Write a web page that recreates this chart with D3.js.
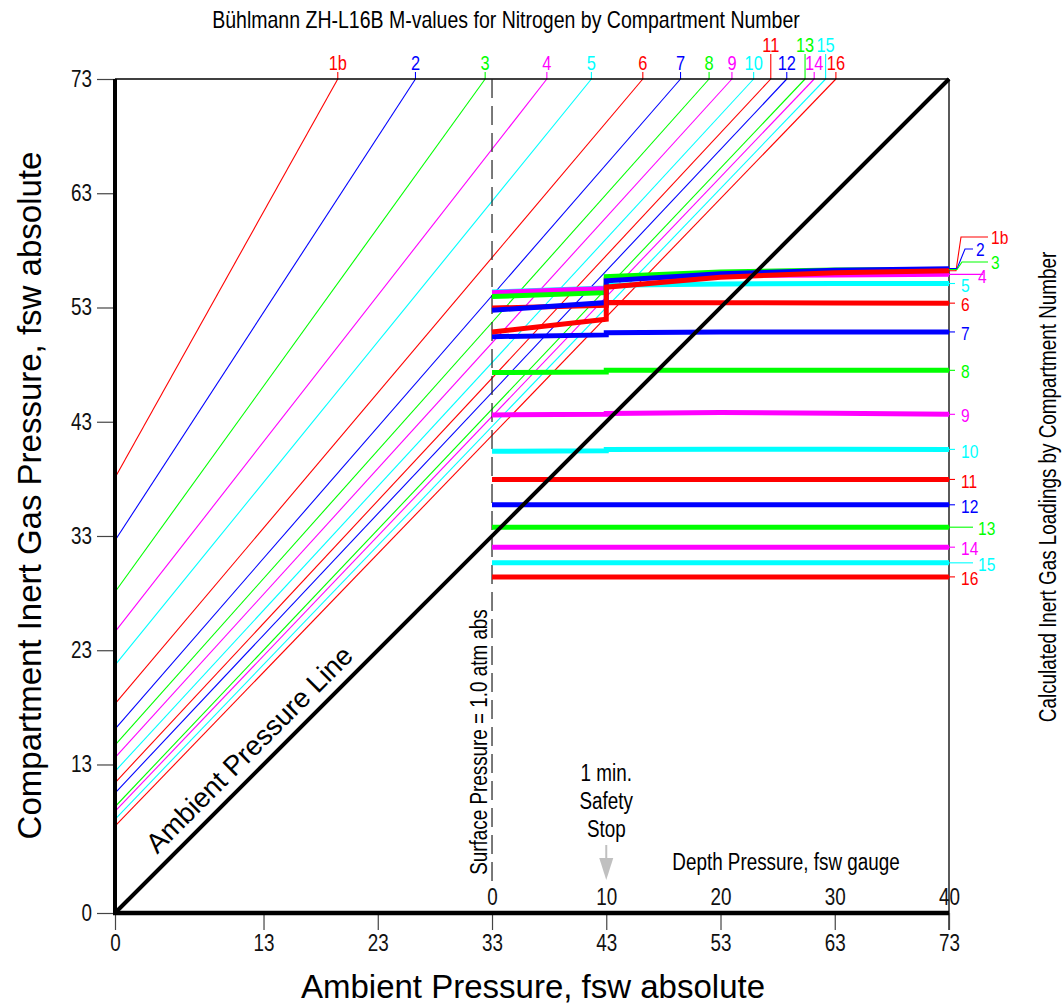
<!DOCTYPE html>
<html><head><meta charset="utf-8">
<script src="https://cdn.jsdelivr.net/npm/d3@7"></script>
<style>body{margin:0;background:#fff}svg{display:block}</style>
</head><body>
<svg id="c" width="1062" height="1005"></svg>
<script>
// ---------- data ----------
const compartments = ["1b","2","3","4","5","6","7","8","9","10","11","12","13","14","15","16"];
const seriesColors = ["#ff0000","#0000ff","#00ff00","#ff00ff","#00ffff","#ff0000","#0000ff","#00ff00","#ff00ff","#00ffff","#ff0000","#0000ff","#00ff00","#ff00ff","#00ffff","#ff0000"];
// M-value line: value at ambient 0 fsw, and ambient pressure where it reaches 73 fsw
const mvalueAtZero = [38.1, 32.6, 28.1, 24.6, 21.7, 18.3, 16.1, 14.7, 13.6, 12.4, 11.4, 10.5, 9.3, 8.9, 8.2, 7.6];
const mvalueTopAmbient = [19.5, 26.3, 32.4, 37.8, 41.7, 46.2, 49.5, 52.0, 54.0, 55.9, 57.4, 58.8, 60.4, 61.2, 62.2, 63.1];
// calculated inert gas loadings vs ambient pressure
const loadingAmbient = [33, 43, 43, 53, 63, 73];
const loadings = [
  [50.86, 51.97, 54.78, 55.65, 56.05, 56.22],
  [52.76, 53.43, 55.33, 55.95, 56.25, 56.40],
  [53.96, 54.30, 55.70, 56.10, 56.28, 56.33],
  [54.30, 54.66, 55.45, 55.80, 55.85, 55.90],
  [54.35, 54.70, 54.95, 55.05, 55.10, 55.10],
  [52.95, 53.20, 53.43, 53.42, 53.40, 53.38],
  [50.45, 50.60, 50.80, 50.85, 50.86, 50.86],
  [47.30, 47.35, 47.50, 47.50, 47.50, 47.50],
  [43.60, 43.65, 43.72, 43.80, 43.75, 43.65],
  [40.42, 40.45, 40.58, 40.60, 40.60, 40.58],
  [37.95, 37.95, 37.95, 37.95, 37.95, 37.95],
  [35.73, 35.73, 35.73, 35.73, 35.73, 35.73],
  [33.77, 33.77, 33.77, 33.77, 33.77, 33.77],
  [32.02, 32.02, 32.02, 32.02, 32.02, 32.02],
  [30.65, 30.65, 30.65, 30.65, 30.65, 30.65],
  [29.42, 29.42, 29.42, 29.42, 29.42, 29.42]
];
const axisTicks = [0, 13, 23, 33, 43, 53, 63, 73];
const depthTicks = [0, 10, 20, 30, 40];
const titleText = "Bühlmann ZH-L16B M-values for Nitrogen by Compartment Number";
const yTitle = "Compartment Inert Gas Pressure, fsw absolute";
const xTitle = "Ambient Pressure, fsw absolute";
const rightTitle = "Calculated Inert Gas Loadings by Compartment Number";
const depthTitle = "Depth Pressure, fsw gauge";
const surfaceText = "Surface Pressure = 1.0 atm abs";
const ambientText = "Ambient Pressure Line";
const stopText = ["1 min.", "Safety", "Stop"];

// ---------- layout ----------
const FONT = "'Liberation Sans', Arial, Helvetica, sans-serif";
const K = 0.82; // condensed text
const svg = d3.select("#c");
const x = d3.scaleLinear().domain([0, 73]).range([115, 949]);
const y = d3.scaleLinear().domain([0, 73]).range([913, 79]);
const xd = d3.scaleLinear().domain([0, 40]).range([x(33), x(73)]);

function ntext(g, tx, ty, rot, str, size, color, anchor) {
  return g.append("text")
    .attr("transform", `translate(${tx},${ty}) rotate(${rot}) scale(${K},1)`)
    .attr("font-family", FONT).attr("font-size", size)
    .attr("fill", color || "#000").attr("text-anchor", anchor || "middle")
    .text(str);
}

// title
ntext(svg, 506, 28, 0, titleText, 23.8, "#000");

// M-value lines
const gM = svg.append("g");
compartments.forEach((c, i) => {
  gM.append("line")
    .attr("x1", x(0)).attr("y1", y(mvalueAtZero[i]))
    .attr("x2", x(mvalueTopAmbient[i])).attr("y2", y(73))
    .attr("stroke", seriesColors[i]).attr("stroke-width", 1.1);
});

// top labels
const raised = new Set(["11", "13", "15"]);
compartments.forEach((c, i) => {
  const px = x(mvalueTopAmbient[i]);
  const up = raised.has(c);
  svg.append("line").attr("x1", px).attr("x2", px)
    .attr("y1", y(73)).attr("y2", up ? 54 : 72)
    .attr("stroke", seriesColors[i]).attr("stroke-width", 1.1);
  ntext(svg, px, up ? 51.5 : 69.5, 0, c, 20, seriesColors[i]);
});

// frame: top and right
svg.append("line").attr("x1", x(0)).attr("x2", x(73)).attr("y1", y(73)).attr("y2", y(73))
  .attr("stroke", "#000").attr("stroke-width", 1.3);
svg.append("line").attr("x1", x(73)).attr("x2", x(73)).attr("y1", y(73)).attr("y2", 930)
  .attr("stroke", "#000").attr("stroke-width", 1.3);

// surface dashed line
svg.append("line").attr("x1", x(33)).attr("x2", x(33)).attr("y1", y(73)).attr("y2", 888)
  .attr("stroke", "#222").attr("stroke-width", 1.2).attr("stroke-dasharray", "19,8");

// loadings
const line = d3.line().x((d, j) => x(loadingAmbient[j])).y(d => y(d));
const gL = svg.append("g");
for (let i = compartments.length - 1; i >= 0; i--) {
  gL.append("path").attr("d", line(loadings[i]))
    .attr("fill", "none").attr("stroke", seriesColors[i]).attr("stroke-width", 5)
    .attr("stroke-linejoin", "miter");
}

// right labels
const xe = x(73);
compartments.forEach((c, i) => {
  const ye = y(loadings[i][loadings[i].length - 1]);
  const col = seriesColors[i];
  let pts, tx, ty;
  if (c === "1b") { pts = [[xe, ye], [956, ye], [961, 237], [988, 237]]; tx = 991; ty = 237; }
  else if (c === "2") { pts = [[xe, ye], [957, ye], [965, 249], [973, 249]]; tx = 976; ty = 249; }
  else if (c === "3") { pts = [[xe, ye], [957, ye], [962, 262], [988, 262]]; tx = 991; ty = 262; }
  else if (c === "4") { pts = [[xe, ye], [983, ye]]; tx = 978; ty = ye + 1.5; }
  else if (c === "13" || c === "15") { pts = [[xe, ye], [973, ye]]; tx = 978; ty = ye + 1.5; }
  else { pts = [[xe, ye], [955, ye]]; tx = 961; ty = ye + 1.5; }
  svg.append("path").attr("d", d3.line()(pts)).attr("fill", "none")
    .attr("stroke", col).attr("stroke-width", 1.1);
  ntext(svg, tx, ty, 0, c, 19, col, "start").attr("dy", "0.35em");
});

// ambient pressure line
svg.append("line").attr("x1", x(0)).attr("y1", y(0)).attr("x2", x(73)).attr("y2", y(73))
  .attr("stroke", "#000").attr("stroke-width", 4);

// axes
const gy = svg.append("g").attr("transform", `translate(${x(0)},0)`)
  .call(d3.axisLeft(y).tickValues(axisTicks).tickFormat(d3.format("d")).tickSize(18).tickPadding(5));
gy.select(".domain").remove();
gy.selectAll(".tick line").attr("stroke", "#444").attr("stroke-width", 1.2);
gy.selectAll(".tick text").attr("font-family", FONT).attr("font-size", 23).attr("fill", "#111")
  .attr("x", -23 / K).attr("transform", `scale(${K},1)`);

const gx = svg.append("g").attr("transform", `translate(0,${y(0)})`)
  .call(d3.axisBottom(x).tickValues(axisTicks).tickFormat(d3.format("d")).tickSize(17).tickPadding(5));
gx.select(".domain").remove();
gx.selectAll(".tick line").attr("stroke", "#444").attr("stroke-width", 1.2);
gx.selectAll(".tick text").attr("font-family", FONT).attr("font-size", 23).attr("fill", "#111")
  .attr("transform", `scale(${K},1)`);

const gd = svg.append("g").attr("transform", `translate(0,${y(0)})`)
  .call(d3.axisTop(xd).tickValues(depthTicks).tickFormat(d3.format("d")).tickSize(0).tickPadding(8));
gd.select(".domain").remove();
gd.selectAll(".tick text").attr("font-family", FONT).attr("font-size", 23).attr("fill", "#111")
  .attr("transform", `scale(${K},1)`);

// left and bottom thick axis lines
svg.append("line").attr("x1", x(0)).attr("x2", x(0)).attr("y1", y(73)).attr("y2", y(0) + 2)
  .attr("stroke", "#000").attr("stroke-width", 4);
svg.append("line").attr("x1", x(0) - 2).attr("x2", x(73)).attr("y1", y(0)).attr("y2", y(0))
  .attr("stroke", "#000").attr("stroke-width", 4.5);

// titles
svg.append("text").attr("transform", "translate(41,495.5) rotate(-90)")
  .attr("font-family", FONT).attr("font-size", 33).attr("text-anchor", "middle").text(yTitle);
svg.append("text").attr("x", 533).attr("y", 998)
  .attr("font-family", FONT).attr("font-size", 33).attr("text-anchor", "middle").text(xTitle);
ntext(svg, 1056, 487, -90, rightTitle, 23, "#000");
ntext(svg, 487, 742, -90, surfaceText, 23, "#000");
ntext(svg, 786, 870, 0, depthTitle, 23, "#000");
svg.append("text").attr("transform", "translate(256,756) rotate(-45)")
  .attr("font-family", FONT).attr("font-size", 27.6).attr("text-anchor", "middle").text(ambientText);

// safety stop
stopText.forEach((s, i) => ntext(svg, x(43), 781 + i * 28, 0, s, 23, "#000"));
svg.append("line").attr("x1", x(43)).attr("x2", x(43)).attr("y1", 845).attr("y2", 860)
  .attr("stroke", "#c0c0c0").attr("stroke-width", 2);
svg.append("path").attr("d", `M${x(43) - 7},858 L${x(43) + 7},858 L${x(43)},880 Z`)
  .attr("fill", "#c0c0c0");
</script>
</body></html>
